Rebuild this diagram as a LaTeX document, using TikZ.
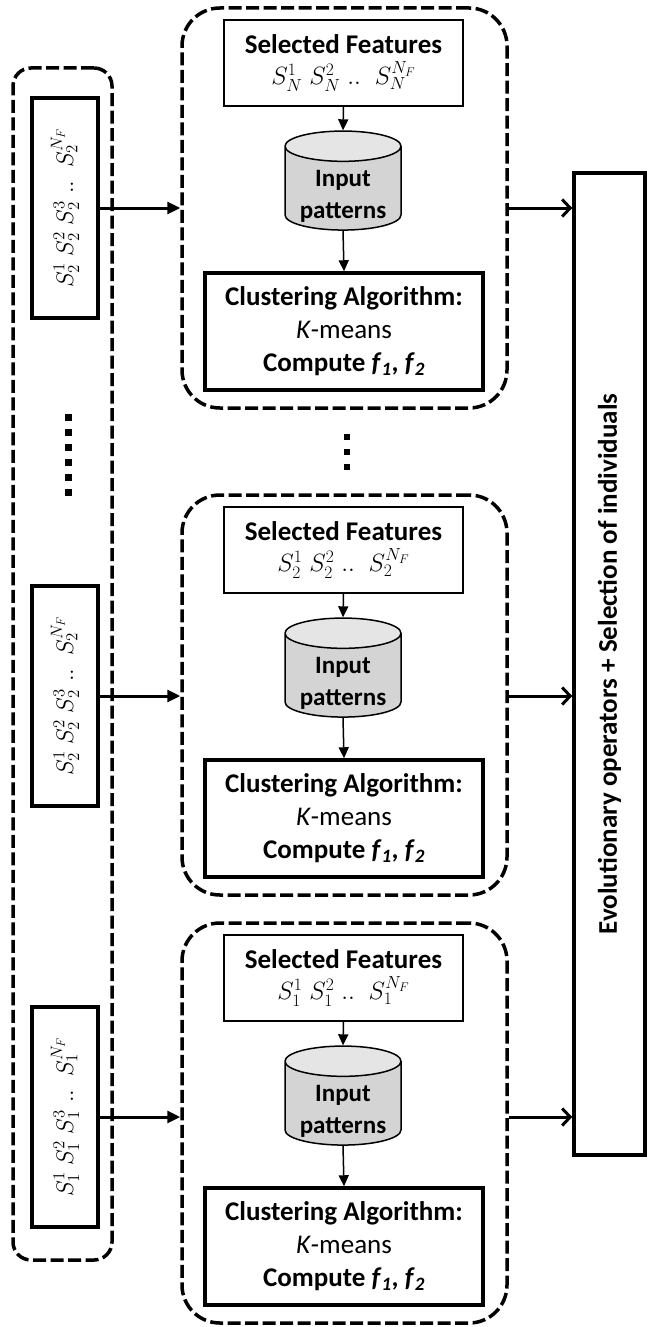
\RequirePackage{fix-cm}
\documentclass[tikz,border=0pt]{standalone}
\usepackage{fontspec}
\setmainfont{Carlito}
\usetikzlibrary{shapes.geometric,arrows.meta}
\begin{document}
\begin{tikzpicture}[x=1pt,y=-1pt,
  panel/.style={draw, dash pattern=on 13pt off 4.5pt, line width=3.5pt, rounded corners=38pt,
    minimum width=325pt, minimum height=400pt, inner sep=0pt},
  sidebox/.style={draw, dash pattern=on 13pt off 4.5pt, line width=3.5pt, rounded corners=18pt,
    minimum width=99pt, minimum height=1192pt, inner sep=0pt},
  sfbox/.style={draw, line width=1.6pt, minimum width=239pt, minimum height=86pt, align=center,
    inner sep=0pt, font=\fontsize{27}{34}\selectfont},
  db/.style={cylinder, shape border rotate=90, draw, line width=1.5pt, minimum width=116pt,
    minimum height=99pt, aspect=0.35, cylinder uses custom fill, cylinder body fill=black!17,
    cylinder end fill=black!10, inner sep=0pt, align=center,
    font=\fontsize{25}{32}\selectfont\bfseries},
  dbtext/.style={align=center, inner sep=0pt, font=\fontsize{25}{32}\selectfont\bfseries},
  clbox/.style={draw, line width=3.5pt, minimum width=278pt, minimum height=117pt, align=center,
    inner sep=0pt, font=\fontsize{27}{33}\selectfont},
  chrom/.style={draw, line width=3.5pt, rotate=90, minimum width=220pt, minimum height=66pt,
    inner sep=0pt, font=\fontsize{24}{26}\selectfont},
  evobox/.style={draw, line width=3.5pt, rotate=90, minimum width=982pt, minimum height=71pt,
    inner sep=0pt, font=\fontsize{27}{30}\selectfont\bfseries},
  inarrow/.style={line width=1.5pt, -{Triangle[length=11pt,width=10pt]}},
  leftarrow/.style={line width=3pt, -{Triangle[length=13pt,width=12pt]}},
  rightarrow/.style={line width=3pt, -{Straight Barb[length=8pt,width=17pt]}},
  dot/.style={fill=black}
]
\useasboundingbox (0,0) rectangle (648,1327);

% side dashed box with chromosomes
\node[sidebox] (side) at (62.5,664) {};
\node[chrom] (s1) at (65,208) {$S_2^1\;S_2^2\;S_2^3\;..\;\;S_2^{N_F}$};
\node[chrom] (s2) at (65,696) {$S_2^1\;S_2^2\;S_2^3\;..\;\;S_2^{N_F}$};
\node[chrom] (s3) at (65,1117) {$S_1^1\;S_1^2\;S_1^3\;..\;\;S_1^{N_F}$};

% right box
\node[evobox] (R) at (609.5,664) {Evolutionary operators + Selection of individuals};

% panels
\foreach \i/\T/\sub in {1/8/N,2/495/2,3/923/1}{
  \node[panel] (p\i) at (344.5,\T+200) {};
  \node[sfbox] (f\i) at (343.5,\T+55) {\textbf{Selected Features}\\[-3pt]
    \fontsize{25}{27}\selectfont$S_{\sub}^1\;S_{\sub}^2\;..\;\;S_{\sub}^{N_F}$};
  \node[db] (c\i) at (343,\T+180.5) {\phantom{Input}\\\phantom{patterns}};
  \node[dbtext] (t\i) at ([yshift=-8pt]c\i.center) {Input\\patterns};
  \node[clbox] (k\i) at (344,\T+323.5) {\textbf{Clustering Algorithm:}\\
    \textit{K}-means\\
    \textbf{Compute \textit{f}\textsubscript{\textit{1}}, \textit{f}\textsubscript{\textit{2}}}};
  \draw[inarrow] (f\i.south) -- (c\i.north);
  \draw[inarrow] (c\i.south) -- (k\i.north);
}

% connectors
\foreach \i in {1,2,3}{
  \draw[leftarrow] (s\i.south) -- (s\i.south -| p\i.west);
  \draw[rightarrow] (s\i.south -| p\i.east) -- (s\i.south -| R.north);
}

% dots
\foreach \k in {0,...,5}{
  \fill[dot] (64.5,413.5+15*\k) rectangle ++(7,7);
}
\foreach \k in {0,1,2}{
  \fill[dot] (344,434+15*\k) rectangle ++(6,6);
}
\end{tikzpicture}
\end{document}
